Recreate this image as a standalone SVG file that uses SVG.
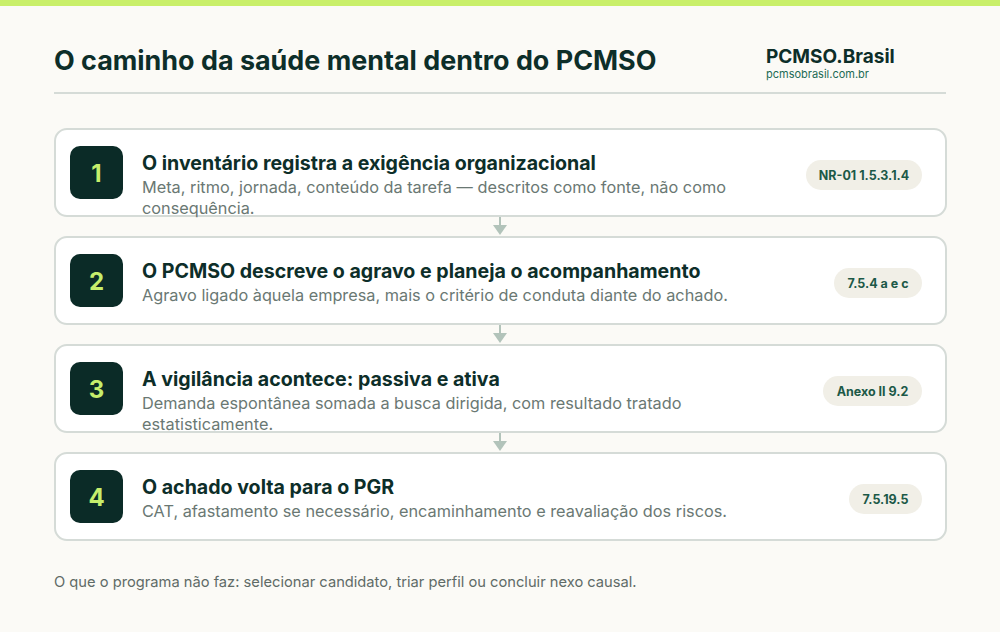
<svg xmlns="http://www.w3.org/2000/svg" width="1000" height="632" viewBox="0 0 1000 632">
<defs>
<style>
.bg{fill:#fbfaf6}
.card{fill:#ffffff;stroke:#d5dbd7;stroke-width:2}
.badge{fill:#0b2b27}
.num{font-family:Inter,"Noto Sans",sans-serif;font-weight:700;font-size:24px;fill:#c6ee6c;text-anchor:middle}
.ttl{font-family:Inter,"Noto Sans",sans-serif;font-weight:700;font-size:19.6px;fill:#0d2e29}
.dsc{font-family:Inter,"Noto Sans",sans-serif;font-size:16.3px;fill:#6a7873}
.pill{fill:#f1efe7}
.ptx{font-family:Inter,"Noto Sans",sans-serif;font-weight:700;font-size:12.5px;fill:#1c5947;text-anchor:middle}
.conn{stroke:#b2c3ba;stroke-width:2;fill:none}
.head{fill:#b2c3ba}
</style>
</defs>
<rect class="bg" x="0" y="0" width="1000" height="632"/>
<rect x="0" y="0" width="1000" height="6" fill="#c9ef6a"/>
<g id="header">
<text x="54" y="70" font-family="Inter,'Noto Sans',sans-serif" font-weight="700" font-size="26.9" fill="#0d2e29">O caminho da saúde mental dentro do PCMSO</text>
<text x="766" y="63" font-family="Inter,'Noto Sans',sans-serif" font-weight="700" font-size="19" fill="#0d2e29">PCMSO.Brasil</text>
<text x="766" y="78" font-family="Inter,'Noto Sans',sans-serif" font-size="11" fill="#1d6b55">pcmsobrasil.com.br</text>
<line x1="54" y1="93" x2="946" y2="93" stroke="#d5dbd7" stroke-width="2"/>
</g>
<g id="connectors">
<line class="conn" x1="500" y1="216" x2="500" y2="226"/>
<path class="head" d="M493,225 L507,225 L500,235 Z"/>
<line class="conn" x1="500" y1="324" x2="500" y2="334"/>
<path class="head" d="M493,333 L507,333 L500,343 Z"/>
<line class="conn" x1="500" y1="432" x2="500" y2="442"/>
<path class="head" d="M493,441 L507,441 L500,451 Z"/>
</g>
<g id="step1">
<rect class="card" x="55" y="129" width="891" height="87" rx="12"/>
<rect class="badge" x="70" y="146" width="53" height="53" rx="10"/>
<text class="num" x="96.5" y="181.5">1</text>
<text class="ttl" x="142" y="170">O inventário registra a exigência organizacional</text>
<text class="dsc" x="142" y="193">Meta, ritmo, jornada, conteúdo da tarefa — descritos como fonte, não como</text>
<text class="dsc" x="142" y="214">consequência.</text>
<rect class="pill" x="806" y="160" width="116" height="30" rx="15"/>
<text class="ptx" x="864" y="179.5">NR-01 1.5.3.1.4</text>
</g>
<g id="step2">
<rect class="card" x="55" y="237" width="891" height="87" rx="12"/>
<rect class="badge" x="70" y="254" width="53" height="53" rx="10"/>
<text class="num" x="96.5" y="289.5">2</text>
<text class="ttl" x="142" y="278">O PCMSO descreve o agravo e planeja o acompanhamento</text>
<text class="dsc" x="142" y="301">Agravo ligado àquela empresa, mais o critério de conduta diante do achado.</text>
<rect class="pill" x="834" y="268" width="88" height="30" rx="15"/>
<text class="ptx" x="878" y="287.5">7.5.4 a e c</text>
</g>
<g id="step3">
<rect class="card" x="55" y="345" width="891" height="87" rx="12"/>
<rect class="badge" x="70" y="362" width="53" height="53" rx="10"/>
<text class="num" x="96.5" y="397.5">3</text>
<text class="ttl" x="142" y="386">A vigilância acontece: passiva e ativa</text>
<text class="dsc" x="142" y="409">Demanda espontânea somada a busca dirigida, com resultado tratado</text>
<text class="dsc" x="142" y="430">estatisticamente.</text>
<rect class="pill" x="823" y="376" width="99" height="30" rx="15"/>
<text class="ptx" x="872.5" y="395.5">Anexo II 9.2</text>
</g>
<g id="step4">
<rect class="card" x="55" y="453" width="891" height="87" rx="12"/>
<rect class="badge" x="70" y="470" width="53" height="53" rx="10"/>
<text class="num" x="96.5" y="505.5">4</text>
<text class="ttl" x="142" y="494">O achado volta para o PGR</text>
<text class="dsc" x="142" y="517">CAT, afastamento se necessário, encaminhamento e reavaliação dos riscos.</text>
<rect class="pill" x="849" y="484" width="73" height="30" rx="15"/>
<text class="ptx" x="885.5" y="503.5">7.5.19.5</text>
</g>
<text x="54" y="587" font-family="Inter,'Noto Sans',sans-serif" font-size="14.7" fill="#5f6b67">O que o programa não faz: selecionar candidato, triar perfil ou concluir nexo causal.</text>
</svg>
